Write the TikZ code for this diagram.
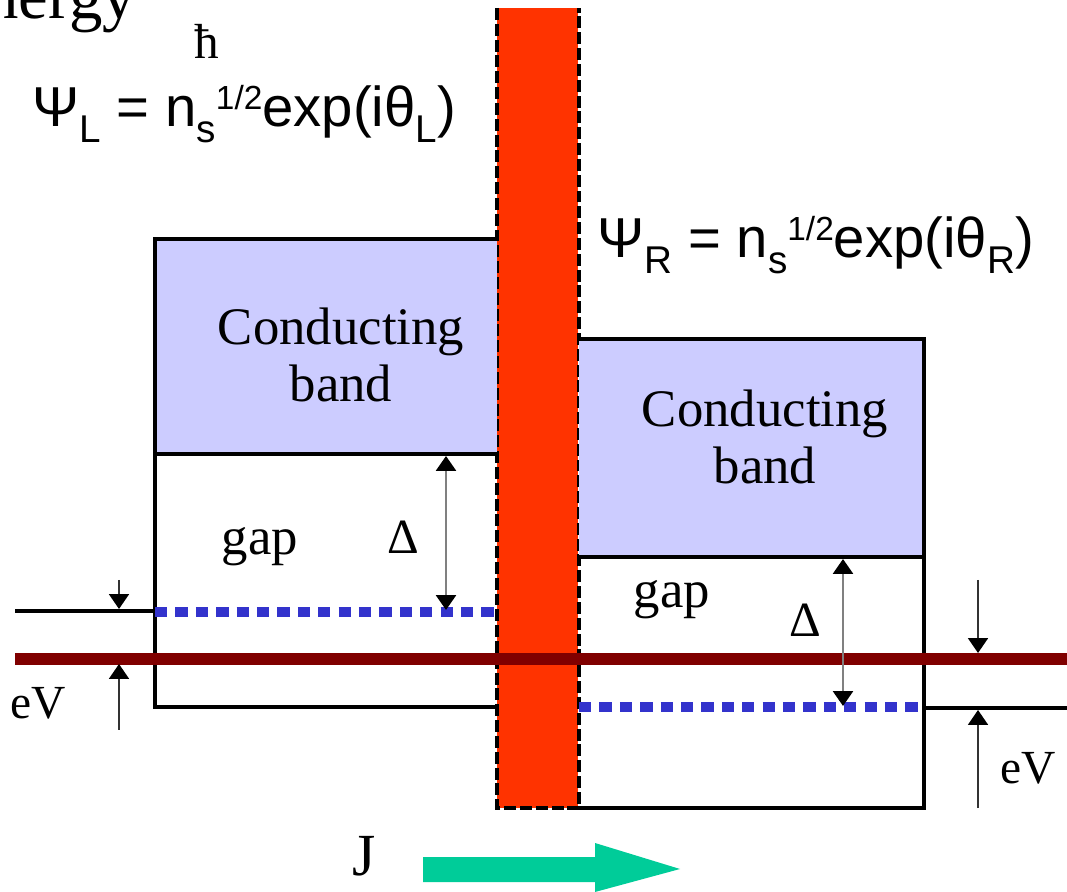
\documentclass[tikz,border=0pt]{standalone}
\usepackage{fontspec}
\setmainfont{Liberation Serif}
\newfontfamily\eqfont{Liberation Sans}
\usetikzlibrary{arrows.meta,positioning}
\definecolor{bandblue}{HTML}{CCCCFF}
\definecolor{barrierred}{HTML}{FF3300}
\definecolor{levelblue}{HTML}{3333CC}
\definecolor{fermired}{HTML}{800000}
\definecolor{flowgreen}{HTML}{00CC99}
\newcommand{\lowtxt}[1]{\raisebox{-4.3pt}{\fontsize{11}{11}\selectfont #1}}
\newcommand{\hightxt}[1]{\raisebox{5pt}{\fontsize{9.5}{10}\selectfont #1}}

\begin{document}
\begin{tikzpicture}[
  x=0.01cm, y=-0.01cm,
  edge/.style={draw=black, line width=0.9pt},
  band/.style={fill=bandblue},
  level/.style={draw=levelblue, line width=3pt, dash pattern=on 3.5pt off 2.3pt},
  gaparrow/.style={draw=black!50, line width=0.8pt,
                   {Triangle[black,length=4.2pt,width=5.6pt]}-{Triangle[black,length=4.2pt,width=5.6pt]}},
  vfarrow/.style={draw=black!80, line width=0.6pt, -{Triangle[black,length=4.2pt,width=5.6pt]}},
  lbl/.style={inner sep=0pt, font=\fontsize{15}{16}\selectfont},
  wave/.style={inner sep=0pt, anchor=base west, font=\eqfont\fontsize{16}{20}\selectfont},
]
\useasboundingbox (0,0) rectangle (1067,892);

%% barrier
\fill[barrierred] (497,8) rectangle (578,808);
\draw[line width=1.1pt, dash pattern=on 3.4pt off 1.1pt] (497,8) -- (497,808) -- (579,808) -- (579,8);

%% left superconductor
\fill[band] (155,239) rectangle (497,454);
\draw[edge] (497,239) -- (155,239) -- (155,707) -- (497,707);
\draw[edge] (155,454) -- (497,454);

%% right superconductor
\fill[band] (579,339) rectangle (924,557);
\draw[edge] (579,339) -- (924,339) -- (924,808) -- (579,808);
\draw[edge] (579,557) -- (924,557);

%% texts
\node[inner sep=0pt, anchor=base east, font=\fontsize{19}{19}\selectfont] (energy) at (137,19) {nergy};
\node[inner sep=0pt, font=\fontsize{14}{14}\selectfont] (hbar) at (207,41) {ħ};
\node[wave] (psiL) at (32,127) {Ψ\lowtxt{L} = n\lowtxt{s}\hightxt{1/2}exp(iθ\lowtxt{L})};
\node[wave] (psiR) at (597,258) {Ψ\lowtxt{R} = n\lowtxt{s}\hightxt{1/2}exp(iθ\lowtxt{R})};
\node[lbl, align=center] (condL) at (341,355) {Conducting\\band};
\node[lbl, align=center] (condR) at (765,437) {Conducting\\band};
\node[lbl] (gapL) at (260,547) {gap};
\node[lbl] (gapR) at (672,600) {gap};
\node[lbl, font=\fontsize{14}{15}\selectfont] (deltaL) at (403,537) {Δ};
\node[lbl, font=\fontsize{14}{15}\selectfont] (deltaR) at (805,620) {Δ};
\node[lbl, font=\fontsize{13.5}{14}\selectfont] (eVL) at (38,703) {eV};
\node[lbl, font=\fontsize{13.5}{14}\selectfont] (eVR) at (1028,768) {eV};
\node[lbl, font=\fontsize{17}{18}\selectfont] (current) at (364,856) {J};

%% energy levels
\draw[level] (155,612) -- (497,612);
\draw[level] (579,707) -- (924,707);
\draw[edge] (15,611) -- (155,611);
\draw[edge] (924,708) -- (1067,708);
\draw[fermired, line width=3.4pt] (15,659) -- (1067,659);

%% gap arrows
\coordinate (dLtop) at (446,456);
\coordinate (dLbot) at (446,610);
\coordinate (dRtop) at (843,559);
\coordinate (dRbot) at (843,706);
\draw[gaparrow] (dLtop) -- (dLbot);
\draw[gaparrow] (dRtop) -- (dRbot);

%% bias arrows
\coordinate (vLa) at (119,580);
\coordinate (vLb) at (119,609);
\coordinate (vLc) at (119,730);
\coordinate (vLd) at (119,664);
\coordinate (vRa) at (978,580);
\coordinate (vRb) at (978,653);
\coordinate (vRc) at (978,808);
\coordinate (vRd) at (978,710);
\draw[vfarrow] (vLa) -- (vLb);
\draw[vfarrow] (vLc) -- (vLd);
\draw[vfarrow] (vRa) -- (vRb);
\draw[vfarrow] (vRc) -- (vRd);

%% current arrow
\fill[flowgreen] (423,857) -- (595,857) -- (595,843) -- (680,869) -- (595,892)
  -- (595,882) -- (423,882) -- cycle;
\end{tikzpicture}
\end{document}
